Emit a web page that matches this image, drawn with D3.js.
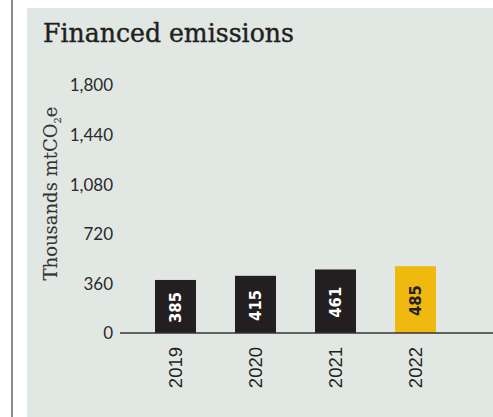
<!DOCTYPE html>
<html>
<head>
<meta charset="utf-8">
<script src="https://cdn.jsdelivr.net/npm/d3@7"></script>
<style>
  html, body { margin: 0; padding: 0; background: #ffffff; }
  svg { display: block; }
</style>
</head>
<body>
<svg id="chart" width="493" height="417"></svg>
<script>
// Financed emissions, thousands of tonnes CO2e
const years = ["2019", "2020", "2021", "2022"];
const emissions = [385, 415, 461, 485];
const yTicks = [0, 360, 720, 1080, 1440, 1800];
const chartTitle = "Financed emissions";

const W = 493, H = 417;
const svg = d3.select("#chart");
const serif = "'DejaVu Serif', 'Liberation Serif', serif";

// page rule and panel
svg.append("rect").attr("x", 11).attr("y", 0).attr("width", 2).attr("height", H).attr("fill", "#8c8c8c");
svg.append("rect").attr("x", 27).attr("y", 8).attr("width", W - 27).attr("height", H - 8).attr("fill", "#e1e7e3");

// title
const title = svg.append("text")
  .attr("x", 43).attr("y", 42)
  .attr("font-family", serif)
  .attr("font-size", 24)
  .attr("fill", "#231f20")
  .attr("stroke", "#231f20")
  .attr("stroke-width", 0.4)
  .text(chartTitle);
{
  const w = title.node().getComputedTextLength();
  title.attr("font-size", 24 * 251 / w);
}

const x = d3.scaleBand().domain(years).range([135.5, 455.5]).paddingInner(0.4875).paddingOuter(0.24375);
const y = d3.scaleLinear().domain([0, 1800]).range([333, 85]);

// y tick labels
const yAxis = d3.axisLeft(y).tickValues(yTicks).tickSize(0).tickPadding(0).tickFormat(d3.format(","));
const gy = svg.append("g").attr("transform", "translate(113,0)").call(yAxis);
gy.select(".domain").remove();
gy.selectAll("text")
  .attr("font-family", "Lato, 'Open Sans', sans-serif")
  .attr("font-size", 17)
  .attr("fill", "#2a2a2a")
  .attr("dy", "0.35em");

// y title
const yt = svg.append("text")
  .attr("transform", "translate(57,193.5) rotate(-90)")
  .attr("text-anchor", "middle")
  .attr("font-family", serif)
  .attr("font-size", 18)
  .attr("fill", "#333")
  .attr("stroke", "#333")
  .attr("stroke-width", 0.1);
yt.append("tspan").text("Thousands mtCO");
yt.append("tspan").attr("font-size", 10).attr("dy", 4).text("2");
yt.append("tspan").attr("dy", -4).text("e");

// bars
const colors = ["#231f20", "#231f20", "#231f20", "#f0b90f"];
const labelColors = ["#ffffff", "#ffffff", "#ffffff", "#231f20"];
svg.append("g").selectAll("rect").data(years).join("rect")
  .attr("x", d => x(d))
  .attr("width", x.bandwidth())
  .attr("y", (d, i) => y(emissions[i]))
  .attr("height", (d, i) => y(0) - y(emissions[i]))
  .attr("fill", (d, i) => colors[i]);

// value labels
svg.append("g").selectAll("text").data(years).join("text")
  .attr("transform", (d, i) => `translate(${x(d) + x.bandwidth() / 2},${(y(emissions[i]) + y(0)) / 2 + 1}) rotate(-90)`)
  .attr("text-anchor", "middle")
  .attr("dy", "0.36em")
  .attr("font-family", "'Liberation Sans Narrow', 'DejaVu Sans Condensed', sans-serif")
  .attr("font-weight", "bold")
  .attr("font-size", 16.5)
  .attr("fill", (d, i) => labelColors[i])
  .text((d, i) => emissions[i]);

// baseline
svg.append("line").attr("x1", 120).attr("x2", W).attr("y1", y(0)).attr("y2", y(0))
  .attr("stroke", "#333").attr("stroke-width", 1.5);

// x labels
const xAxis = d3.axisBottom(x).tickSize(0).tickPadding(0);
const gx = svg.append("g").attr("transform", `translate(0,${y(0)})`).call(xAxis);
gx.select(".domain").remove();
gx.selectAll("text")
  .attr("transform", "translate(0,14) rotate(-90)")
  .attr("text-anchor", "end")
  .attr("y", 0)
  .attr("dy", "0.36em")
  .attr("font-family", "'Liberation Sans', Arial, sans-serif")
  .attr("font-size", 18.5)
  .attr("fill", "#231f20");
</script>
</body>
</html>
